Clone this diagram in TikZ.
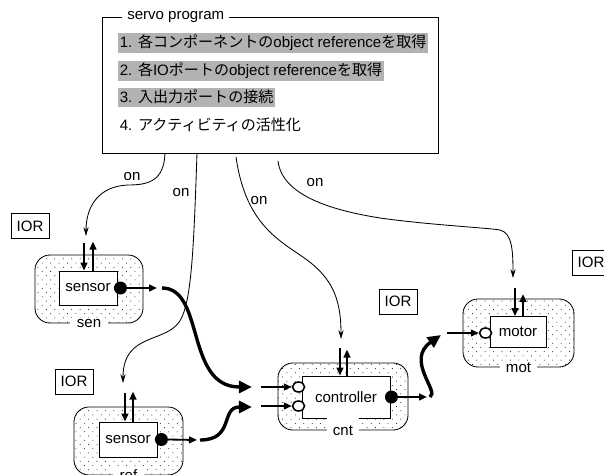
\documentclass[tikz,border=0pt]{standalone}
\usepackage{fontspec}
\setmainfont{Liberation Sans}
\newfontfamily\jp{Noto Sans CJK JP}
\usetikzlibrary{arrows.meta,shapes.geometric,patterns}
\pgfdeclarepatternformonly{sparse dots}{\pgfqpoint{-1pt}{-1pt}}{\pgfqpoint{7pt}{7pt}}{\pgfqpoint{6pt}{6pt}}{%
  \pgfpathcircle{\pgfqpoint{0pt}{0pt}}{0.35pt}%
  \pgfpathcircle{\pgfqpoint{3pt}{3pt}}{0.35pt}%
  \pgfusepath{fill}}
\begin{document}
\begin{tikzpicture}[x=0.025cm,y=-0.025cm,
    every node/.style={font=\fontsize{10.7}{13}\selectfont},
    servobox/.style={draw,line width=0.6pt,minimum width=8.4cm,minimum height=3.4cm,inner sep=0},
    servotitle/.style={fill=white,anchor=west,inner xsep=0.125cm,inner ysep=0.5pt},
    stepline/.style={anchor=west,inner xsep=0.04cm,inner ysep=0,minimum height=0.475cm},
    stepdone/.style={stepline,fill=black!30},
    compbox/.style={draw,line width=0.6pt,rounded corners=0.375cm,pattern=sparse dots,minimum height=1.7cm,inner sep=0},
    compbody/.style={draw,fill=white,line width=0.6pt,inner sep=0},
    complabel/.style={fill=white,inner xsep=0.16cm,inner ysep=1pt},
    iorbox/.style={draw,line width=0.6pt,minimum width=0.95cm,minimum height=0.625cm,inner sep=0},
    outport/.style={circle,fill=black,minimum size=0.325cm,inner sep=0},
    inport/.style={ellipse,draw,fill=white,line width=1.1pt,minimum width=0.3cm,minimum height=0.25cm,inner sep=0},
    portarrow/.style={line width=1.3pt,-{Triangle[length=0.2cm,width=0.17cm]}},
    busarrow/.style={line width=2.4pt,-{Triangle[length=0.33cm,width=0.3cm]}},
    onarrow/.style={line width=0.6pt,-{Stealth[length=0.22cm,width=0.13cm]}}]
  \fill[white] (0,0) rectangle (604,474);%
  \useasboundingbox (0,0) rectangle (604,474);%

  % Servo program box
  \node[servobox] (servo) at (270,85) {};%
  \node[servotitle] (servoname) at (122,17) {servo program};%
  \node[stepdone] (step1) at (118,43) {1. {\jp 各コンポーネントの}object reference{\jp を取得}};%
  \node[stepdone] (step2) at (118,71) {2. {\jp 各}IO{\jp ポートの}object reference{\jp を取得}};%
  \node[stepdone] (step3) at (118,97) {3. {\jp 入出力ポートの接続}};%
  \node[stepline] (step4) at (118,125) {4. {\jp アクティビティの活性化}};%

  % Component sen
  \node[compbox,minimum width=2.7cm] (sen) at (89,289) {};%
  \node[compbody,minimum width=1.45cm,minimum height=0.85cm] (senbody) at (88,288) {sensor};%
  \node[complabel] (senname) at (sen.south) {sen};%
  \node[outport] (senout) at ([xshift=0.075cm]senbody.east) {};%
  \node[iorbox] (senior) at (30,226) {IOR};%

  % Component ref
  \node[compbox,minimum width=2.725cm] (ref) at (128.5,441) {};%
  \node[compbody,minimum width=1.45cm,minimum height=0.875cm] (refbody) at (128,439.5) {sensor};%
  \node[complabel] (refname) at (ref.south) {ref};%
  \node[outport] (refout) at ([xshift=0.1cm]refbody.east) {};%
  \node[iorbox] (refior) at (74,381.5) {IOR};%

  % Component cnt
  \node[compbox,minimum width=3.25cm,minimum height=1.675cm] (cnt) at (343,396.5) {};%
  \node[compbody,minimum width=2.2cm,minimum height=1.05cm] (cntbody) at (346,397) {controller};%
  \node[complabel,minimum height=0.65cm] (cntname) at (cnt.south) {cnt};%
  \node[outport] (cntout) at ([xshift=0.025cm]cntbody.east) {};%
  \node[inport] (cntin1) at ([xshift=-0.075cm,yshift=0.25cm]cntbody.west) {};%
  \node[inport] (cntin2) at ([xshift=-0.075cm,yshift=-0.225cm]cntbody.west) {};%
  \node[iorbox] (cntior) at (398,301.5) {IOR};%

  % Component mot
  \node[compbox,minimum width=2.775cm] (mot) at (518.5,333) {};%
  \node[compbody,minimum width=1.4cm,minimum height=0.775cm] (motbody) at (518,332) {motor};%
  \node[complabel] (motname) at (mot.south) {mot};%
  \node[inport] (motin) at ([xshift=-0.1cm,yshift=-0.025cm]motbody.west) {};%
  \node[iorbox] (motior) at (591,262.5) {IOR};%

  % Service ports
  \draw[portarrow] ([xshift=-0.1cm,yshift=0.7cm]senbody.north) -- ([xshift=-0.1cm]senbody.north);%
  \draw[portarrow] ([xshift=0.125cm]senbody.north) -- ([xshift=0.125cm,yshift=0.725cm]senbody.north);%
  \draw[portarrow] ([xshift=-0.075cm,yshift=0.725cm]refbody.north) -- ([xshift=-0.075cm]refbody.north);%
  \draw[portarrow] ([xshift=0.125cm]refbody.north) -- ([xshift=0.125cm,yshift=0.75cm]refbody.north);%
  \draw[portarrow] ([xshift=-0.15cm,yshift=0.7cm]cntbody.north) -- ([xshift=-0.15cm]cntbody.north);%
  \draw[portarrow] ([xshift=0.025cm]cntbody.north) -- ([xshift=0.025cm,yshift=0.65cm]cntbody.north);%
  \draw[portarrow] ([xshift=-0.075cm,yshift=0.7cm]motbody.north) -- ([xshift=-0.075cm]motbody.north);%
  \draw[portarrow] ([xshift=0.125cm]motbody.north) -- ([xshift=0.125cm,yshift=0.55cm]motbody.north);%

  % Data ports
  \coordinate (senouttip) at (157,288);%
  \coordinate (refouttip) at (197,440);%
  \coordinate (cntouttip) at (427,397);%
  \coordinate (cntin1tail) at (261,387);%
  \coordinate (cntin2tail) at (261,406);%
  \coordinate (motintail) at (447,333);%
  \draw[portarrow] (senout.east) -- (senouttip);%
  \draw[portarrow] (refout.east) -- (refouttip);%
  \draw[portarrow] (cntout.east) -- (cntouttip);%
  \draw[portarrow] (cntin1tail) -- (cntin1.west);%
  \draw[portarrow] (cntin2tail) -- (cntin2.west);%
  \draw[portarrow] (motintail) -- (motin.west);%

  % Connections between data ports
  \coordinate (senbus) at (162,288);%
  \coordinate (refbus) at (200,440);%
  \coordinate (cntbus) at (430,397);%
  \coordinate (cntbusA) at (252,387);%
  \coordinate (cntbusB) at (252,407);%
  \coordinate (motbus) at (441,335);%
  \draw[busarrow] (senbus) .. controls (205,288) and (185,387) .. (cntbusA);%
  \draw[busarrow] (refbus) .. controls (235,440) and (220,407) .. (cntbusB);%
  \draw[busarrow] (cntbus) .. controls (440,392) and (405,360) .. (motbus);%

  % Calls from the servo program
  \coordinate (onsenA) at (165,153);%
  \coordinate (onsenB) at (86,236);%
  \coordinate (onrefA) at (197,153);%
  \coordinate (onrefB) at (123,383);%
  \coordinate (oncntA) at (236,157);%
  \coordinate (oncntB) at (341,339);%
  \coordinate (onmotA) at (278,161);%
  \coordinate (onmotB) at (513,278);%
  \draw[onarrow] (onsenA) .. controls (164,180) and (150,185) .. (128,185) .. controls (100,186) and (86,205) .. (onsenB);%
  \draw[onarrow] (onrefA) .. controls (194,240) and (192,295) .. (182,317) .. controls (170,345) and (123,330) .. (onrefB);%
  \draw[onarrow] (oncntA) .. controls (245,220) and (275,238) .. (300,255) .. controls (330,275) and (341,295) .. (oncntB);%
  \draw[onarrow] (onmotA) .. controls (282,195) and (330,210) .. (380,218) .. controls (430,225) and (490,228) .. (500,230) .. controls (512,233) and (513,250) .. (onmotB);%
  \node (onsenlabel) at (132,177) {on};%
  \node (onreflabel) at (181,193) {on};%
  \node (oncntlabel) at (259,201) {on};%
  \node (onmotlabel) at (315,183) {on};%
\end{tikzpicture}
\end{document}
